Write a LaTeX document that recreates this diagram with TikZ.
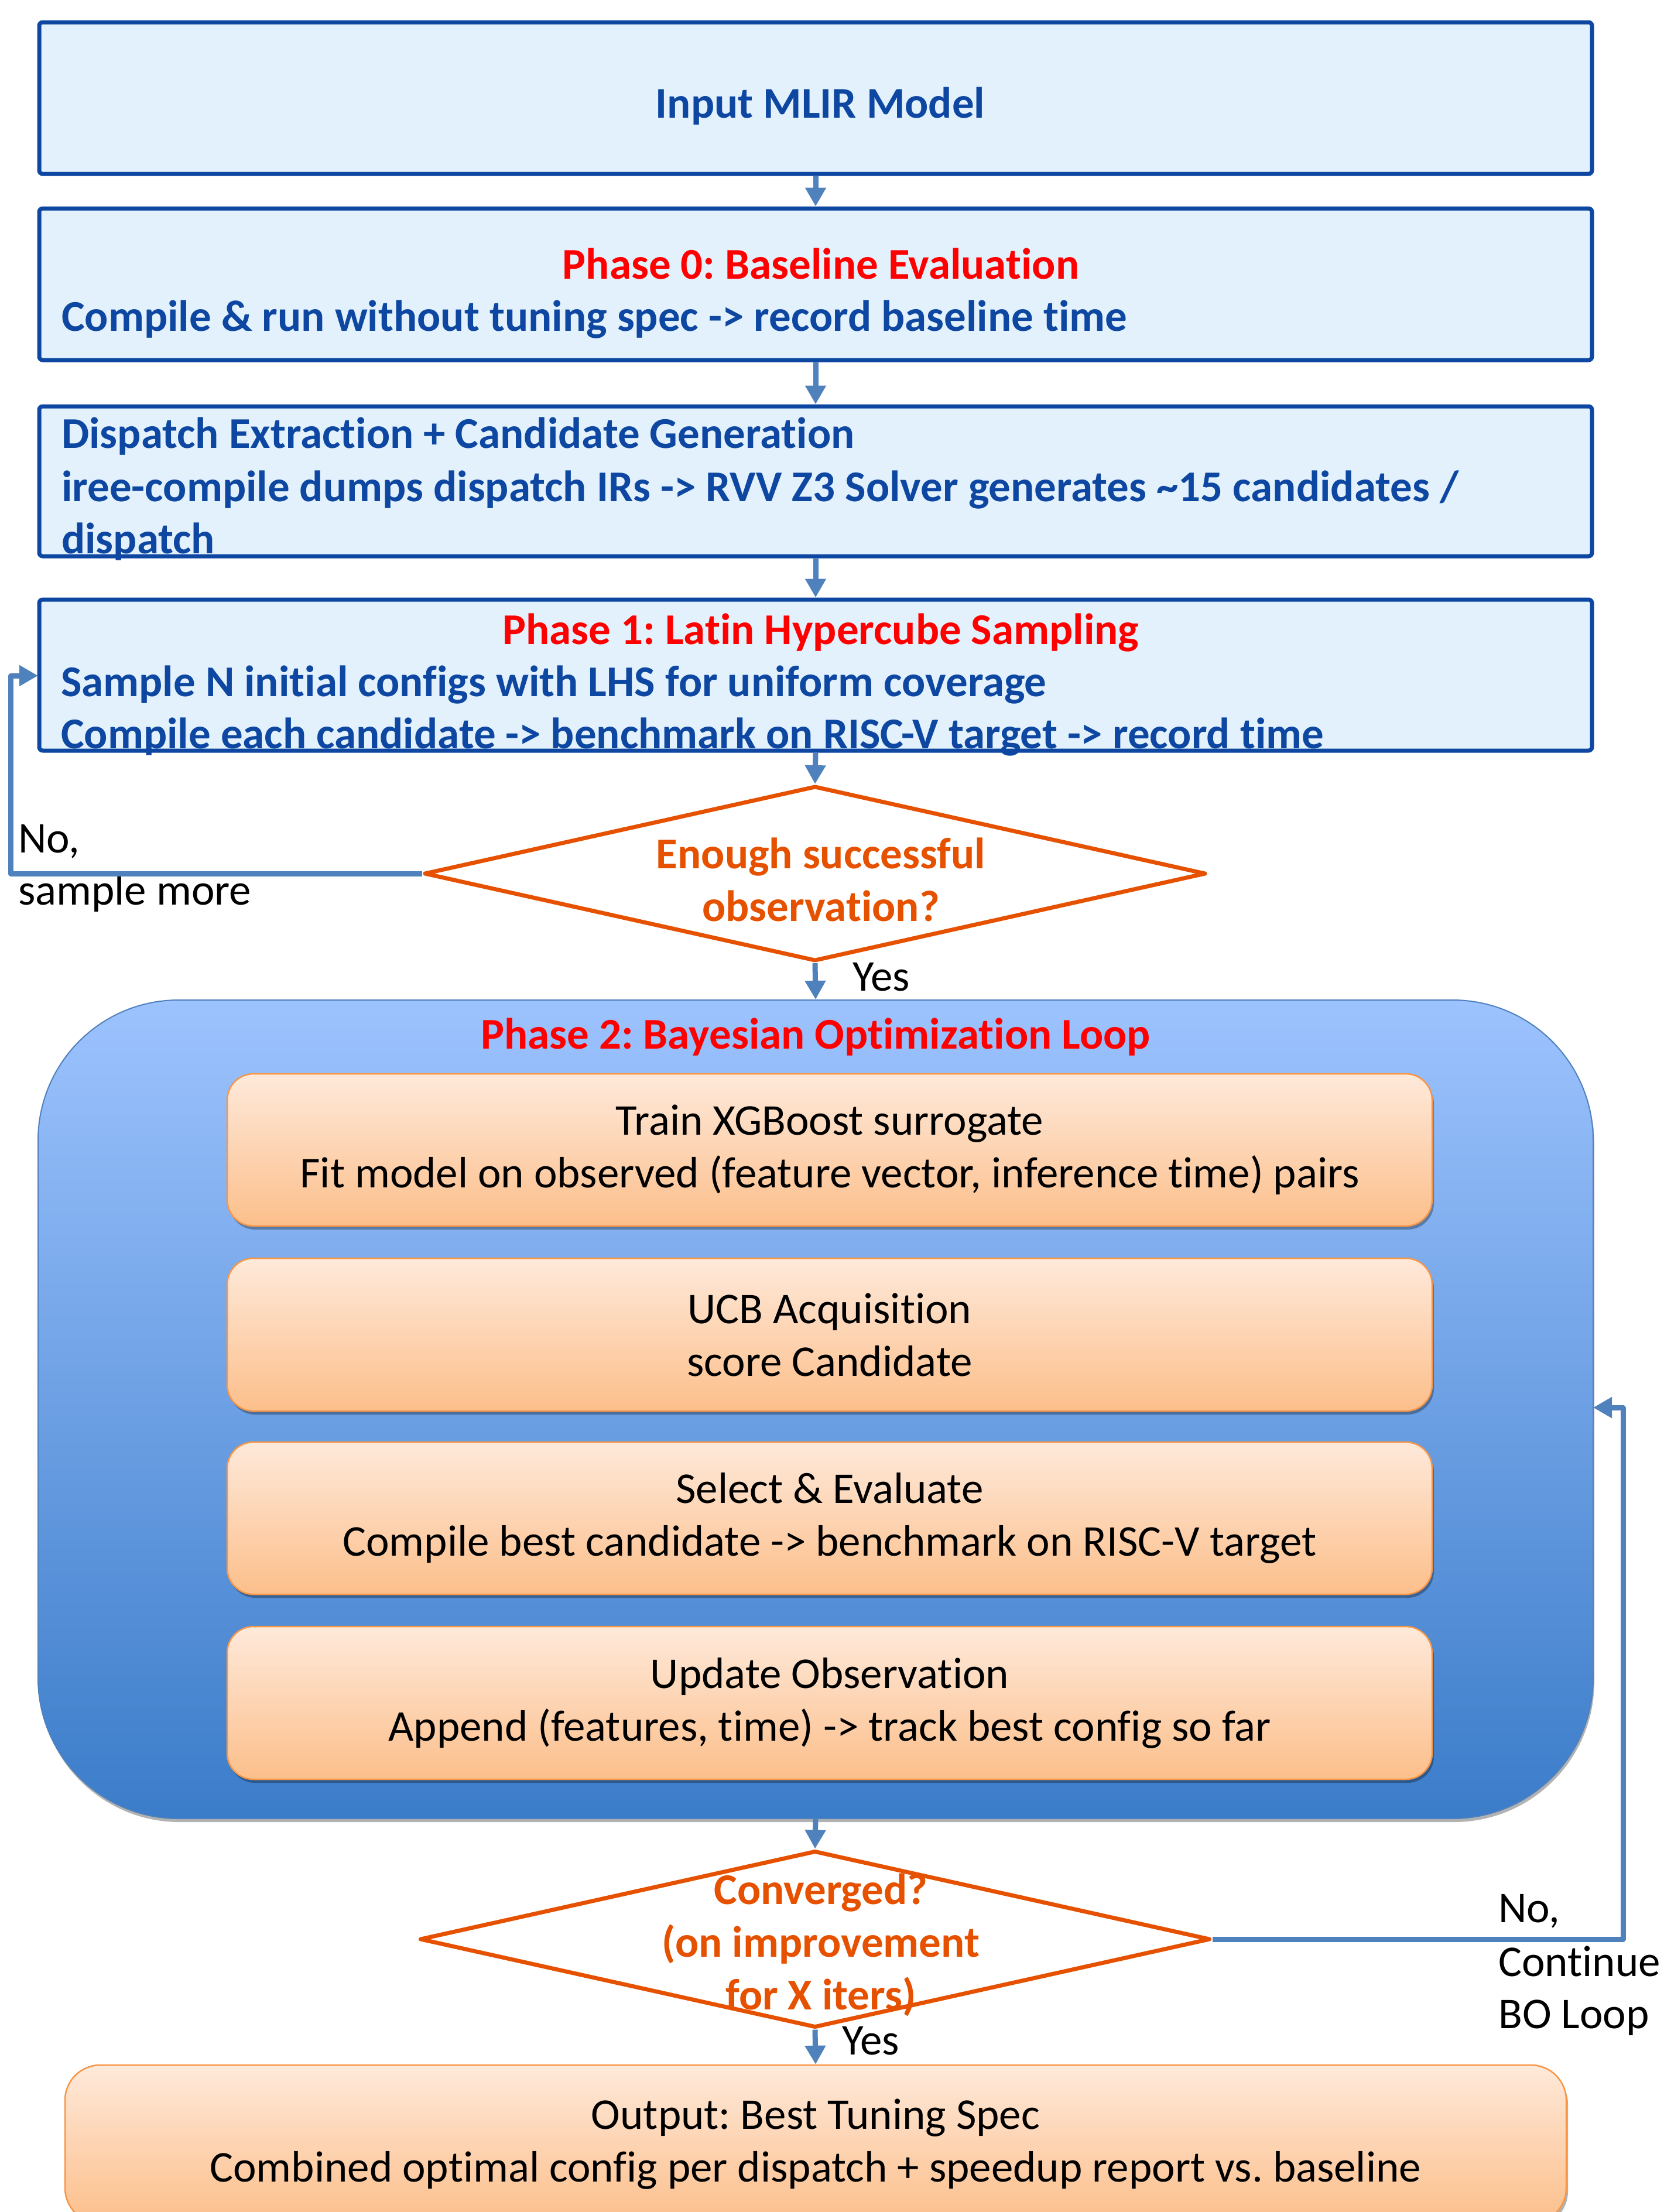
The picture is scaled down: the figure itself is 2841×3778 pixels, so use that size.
\documentclass[tikz,border=0pt]{standalone}
\usepackage{fontspec}
\setmainfont{Carlito}[Ligatures=NoCommon]
\usetikzlibrary{shapes.geometric,arrows.meta,shadows}
\definecolor{boxblue}{HTML}{0D47A1}
\definecolor{boxfill}{HTML}{E3F1FC}
\definecolor{phred}{HTML}{FF0000}
\definecolor{decor}{HTML}{E65100}
\definecolor{arrowblue}{HTML}{4F81BD}
\definecolor{contop}{HTML}{9DC3FE}
\definecolor{conbot}{HTML}{3B7CC9}
\definecolor{ortop}{HTML}{FEE9DA}
\definecolor{orbot}{HTML}{FCBF8B}
\definecolor{orline}{HTML}{F79646}
\frenchspacing
\begin{document}
\begin{tikzpicture}[x=1pt,y=-1pt,
  every node/.style={font=\fontsize{75}{90}\selectfont, inner sep=0pt},
  bluebox/.style={draw=boxblue, line width=7pt, fill=boxfill, rounded corners=6pt, minimum width=2652pt},
  btitle/.style={text=phred, font=\fontsize{75}{90}\selectfont\bfseries, anchor=base},
  bline/.style={text=boxblue, font=\fontsize{75}{90}\selectfont\bfseries, anchor=base west},
  orbox/.style={draw=orline, line width=2.5pt, top color=ortop, bottom color=orbot, rounded corners=45pt, align=center,
    drop shadow={shadow xshift=3pt, shadow yshift=-6pt, opacity=0.3, fill=black}},
  decision/.style={diamond, draw=decor, line width=7pt, line join=round},
  dtext/.style={text=decor, font=\fontsize{75}{90}\selectfont\bfseries, align=center},
  arr/.style={draw=arrowblue, line width=9pt, line join=round, -{Triangle[length=32pt,width=34pt]}},
  plain/.style={anchor=base west, align=left}
]
\useasboundingbox (0,0) rectangle (2841,3778);

% top boxes
\node[bluebox, minimum height=259pt] (b1) at (1393,167.5) {};
\node[text=boxblue, font=\fontsize{75}{90}\selectfont\bfseries, anchor=base] (t1) at (1401,201) {Input MLIR Model};

\node[bluebox, minimum height=259pt] (b2) at (1393,485.5) {};
\node[btitle] (t2a) at (1402,476) {Phase 0: Baseline Evaluation};
\node[bline] (t2b) at (105,565) {Compile \& run without tuning spec -> record baseline time};

\node[bluebox, minimum height=256pt] (b3) at (1393,822) {};
\node[bline] (t3a) at (105,765) {Dispatch Extraction + Candidate Generation};
\node[bline] (t3b) at (105,856) {iree-compile dumps dispatch IRs -> RVV Z3 Solver generates \textasciitilde15 candidates /};
\node[bline] (t3c) at (105,945) {dispatch};

\node[bluebox, minimum height=258pt] (b4) at (1393,1153) {};
\node[btitle] (t4a) at (1402,1100) {Phase 1: Latin Hypercube Sampling};
\node[bline] (t4b) at (104,1189) {Sample N initial configs with LHS for uniform coverage};
\node[bline] (t4c) at (104,1278) {Compile each candidate -> benchmark on RISC-V target -> record time};

% decision 1
\node[decision, minimum width=1335pt, minimum height=299pt] (d1) at (1392,1492) {};
\node[dtext] (d1t) at (1402,1502) {Enough successful\\observation?};

% container
\node[draw=arrowblue, line width=2pt, top color=contop, bottom color=conbot, rounded corners=240pt,
  minimum width=2656pt, minimum height=1398pt,
  drop shadow={shadow xshift=2pt, shadow yshift=-6pt, opacity=0.3, fill=black}] (cont) at (1393,2407) {};
\node[btitle] (ct) at (1393,1791) {Phase 2: Bayesian Optimization Loop};

\node[orbox, minimum width=2058pt, minimum height=260pt] (oa) at (1417,1964) {Train XGBoost surrogate\\Fit model on observed (feature vector, inference time) pairs};
\node[orbox, minimum width=2058pt, minimum height=261pt] (ob) at (1417,2279.5) {UCB Acquisition\\score Candidate};
\node[orbox, minimum width=2058pt, minimum height=260pt] (oc) at (1417,2593) {Select \& Evaluate\\Compile best candidate -> benchmark on RISC-V target};
\node[orbox, minimum width=2058pt, minimum height=261pt] (od) at (1417,2908.5) {Update Observation\\Append (features, time) -> track best config so far};

% decision 2
\node[decision, minimum width=1350pt, minimum height=302pt] (d2) at (1392,3312) {};
\node[dtext] (d2t) at (1402,3322) {Converged?\\(on improvement\\for X iters)};

% output
\node[orbox, rounded corners=60pt, minimum width=2564pt, minimum height=270pt] (out) at (1393,3662) {Output: Best Tuning Spec\\Combined optimal config per dispatch + speedup report vs. baseline};

% labels
\node[plain] (yes1) at (1456,1692) {Yes};
\node[plain] (yes2) at (1438,3509) {Yes};
\node[plain] (no1a) at (31,1456) {No,};
\node[plain] (no1b) at (31,1545) {sample more};
\node[plain] (no2a) at (2559,3283) {No,};
\node[plain] (no2b) at (2559,3375) {Continue};
\node[plain] (no2c) at (2559,3464) {BO Loop};

% connectors
\draw[arr] (b1.south) -- (b2.north);
\draw[arr] (b2.south) -- (b3.north);
\draw[arr] (b3.south) -- (b4.north);
\draw[arr] (b4.south) -- (d1.north);
\draw[arr] (d1.south) -- (cont.north);
\draw[arr] (cont.south) -- (d2.north);
\draw[arr] (d2.south) -- (out.north);
\coordinate (fbL) at (18,0);
\coordinate (inL) at (65,1154);
\draw[arr] (d1.west) -- (d1.west -| fbL) -- (fbL |- inL) -- (inL);
\coordinate (fbR) at (2772,0);
\coordinate (inR) at (2721,2404);
\draw[arr] (d2.east) -- (d2.east -| fbR) -- (fbR |- inR) -- (inR);
\end{tikzpicture}
\end{document}
